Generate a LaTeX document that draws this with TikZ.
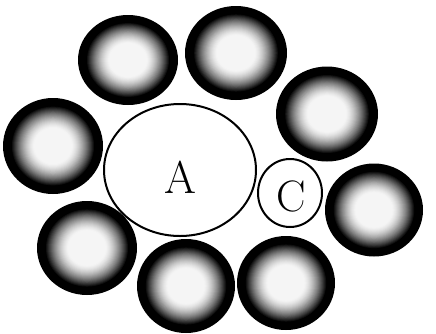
\documentclass[tikz,border=0pt]{standalone}
\usetikzlibrary{shapes.geometric}
\newcommand\myball[4]{%
  \foreach \i in {50,49,...,1}{%
    \pgfmathsetmacro\t{\i/50}%
    \pgfmathsetmacro\q{min(1,max(0,(\t-0.38)/0.46))}%
    \pgfmathsetmacro\p{4+96*\q*sqrt(\q)}%
    \fill[black!\p] (#1,#2) ellipse [x radius=\t*#3, y radius=\t*#4];
  }}
\tikzset{
  ringnode/.style={ellipse, draw=black, line width=2pt, fill=white, inner sep=0pt},
  labeltext/.style={font=\fontsize{46}{46}\selectfont}
}
\begin{document}
\begin{tikzpicture}[x=1pt,y=-1pt]
\useasboundingbox (0,0) rectangle (436,333);
\myball{128}{60}{50}{45}
\myball{236}{53}{51}{47}
\myball{327}{114}{51}{47.5}
\myball{53}{146}{50}{48}
\myball{374}{210}{49}{46.5}
\myball{87}{248}{50}{47}
\myball{186}{286}{49}{47}
\myball{286}{283}{49}{47}
\node[ringnode, minimum width=152pt, minimum height=132pt] (A) at (180,170) {};
\node[labeltext] (la) at (180,177) {A};
\node[ringnode, minimum width=64pt, minimum height=68pt] (C) at (290,193) {};
\node[labeltext, font=\fontsize{44}{44}\selectfont] (lc) at (291,196) {C};
\end{tikzpicture}
\end{document}
